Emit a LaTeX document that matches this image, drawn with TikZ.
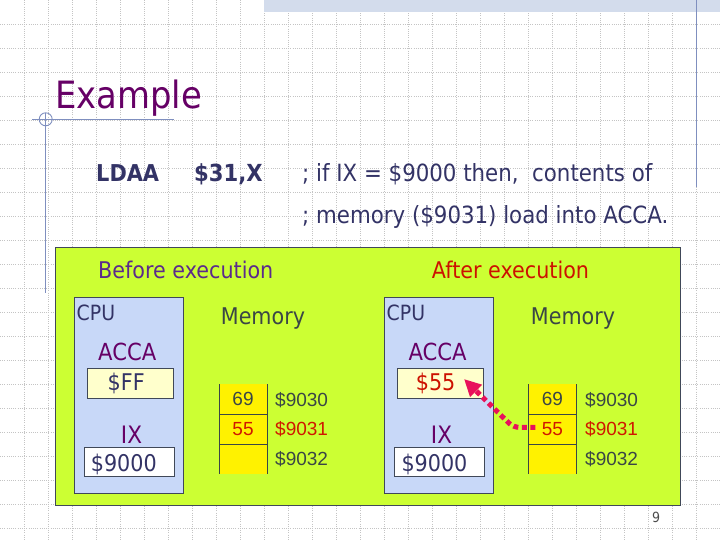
\documentclass[tikz,border=0pt]{standalone}
\usepackage{fontspec}
\setmainfont[FakeStretch=0.9]{DejaVu Sans}
\newfontfamily\memfont{Liberation Sans}
\usetikzlibrary{arrows.meta}
\definecolor{titlepurple}{HTML}{660066}
\definecolor{navy}{HTML}{333366}
\definecolor{beforec}{HTML}{5B2A8C}
\definecolor{afterc}{HTML}{CC1100}
\definecolor{memgray}{HTML}{3A4646}
\definecolor{redtxt}{HTML}{D01800}
\definecolor{panelg}{HTML}{CCFF33}
\definecolor{cpublue}{HTML}{C8D8F8}
\definecolor{accay}{HTML}{FFFFCC}
\definecolor{slate}{HTML}{7F8FBF}
\definecolor{gridc}{HTML}{C4C4C4}
\definecolor{bandc}{HTML}{D3DCEC}
\definecolor{pinkarrow}{HTML}{E8115B}
\definecolor{boxline}{HTML}{404858}
\tikzset{
  txt/.style={inner sep=0pt, anchor=base west},
  box/.style={draw=boxline, line width=1pt, inner sep=0pt, anchor=north west},
  cell/.style={fill=yellow, inner sep=0pt, anchor=north west, minimum width=47.7pt, minimum height=29.8pt, font=\memfont\fontsize{19}{22}\selectfont},
  memline/.style={draw=memgray, line width=0.9pt},
  gridline/.style={draw=gridc, line width=0.6pt, dash pattern=on 1pt off 1.2pt},
  slateline/.style={draw=slate, line width=1.1pt},
  f23/.style={font=\fontsize{23}{27}\selectfont},
  memlab/.style={txt, font=\memfont\fontsize{19}{22}\selectfont},
  loadarrow/.style={draw=pinkarrow, line width=5pt, dash pattern=on 5pt off 3.5pt, rounded corners=6pt, -{Triangle[length=17pt,width=16pt]}}
}
\begin{document}
\begin{tikzpicture}[x=1pt,y=-1pt]
\useasboundingbox (0,0) rectangle (720,540);
\fill[white] (0,0) rectangle (720,540);
% background grid
\foreach \i in {1,...,29} { \draw[gridline] (24*\i,0) -- (24*\i,540); }
\foreach \j in {1,...,22} { \draw[gridline] (0,24*\j) -- (720,24*\j); }
% top band and decorative lines
\fill[bandc] (264,0) rectangle (720,12);
\draw[slateline] (696.7,0) -- (696.7,186.7);
\draw[slateline] (32,119.3) -- (174,119.3);
\draw[slateline] (45.7,113) -- (45.7,293);
\draw[draw=slate, line width=0.9pt] (45.7,119.3) circle[radius=6.5];
% title and instruction
\node[txt, text=titlepurple, font=\fontsize{37.6}{42}\selectfont] (title) at (55,108.3) {Example};
\node[txt, text=navy, font=\bfseries\fontsize{23.2}{27}\selectfont] (op) at (96,182) {LDAA};
\node[txt, text=navy, font=\bfseries\fontsize{23.5}{27}\selectfont] (arg) at (194,182) {\$31,X};
\node[txt, text=navy, font=\fontsize{23.7}{27}\selectfont] (c1) at (302,182) {; if IX = \$9000 then,\ \ contents of};
\node[txt, text=navy, font=\fontsize{23.7}{27}\selectfont] (c2) at (302,223) {; memory (\$9031) load into ACCA.};
% panel
\node[box, fill=panelg, line width=1.3pt, minimum width=625pt, minimum height=258pt] (panel) at (55,247) {};
\node[txt, f23, text=beforec] (before) at (98,278.3) {Before execution};
\node[txt, f23, text=afterc] (after) at (431.7,278.3) {After execution};
% CPU boxes
\node[box, fill=cpublue, minimum width=108.4pt, minimum height=195.4pt] (cpuL) at (74.3,297.3) {};
\node[box, fill=cpublue, minimum width=108.7pt, minimum height=195.4pt] (cpuR) at (384,297.3) {};
\node[txt, text=navy, font=\fontsize{21}{25}\selectfont] (cpuLt) at (76.5,320) {CPU};
\node[txt, text=navy, font=\fontsize{21}{25}\selectfont] (cpuRt) at (386.5,320) {CPU};
\node[txt, text=titlepurple, font=\fontsize{23.5}{27}\selectfont] (accaLt) at (98,360.7) {ACCA};
\node[txt, text=titlepurple, font=\fontsize{23.5}{27}\selectfont] (accaRt) at (408.3,360.7) {ACCA};
\node[box, fill=accay, minimum width=85.4pt, minimum height=30pt] (accaL) at (87.3,368.3) {};
\node[box, fill=accay, minimum width=85.4pt, minimum height=30pt] (accaR) at (397.3,368.3) {};
\node[txt, f23, text=navy] (ffL) at (107.5,390.7) {\$FF};
\node[txt, f23, text=afterc] (v55) at (415.7,390.7) {\$55};
\node[txt, text=titlepurple, font=\fontsize{24}{28}\selectfont] (ixLt) at (120.7,443.3) {IX};
\node[txt, text=titlepurple, font=\fontsize{24}{28}\selectfont] (ixRt) at (430.7,443.3) {IX};
\node[box, fill=white, minimum width=90pt, minimum height=29.3pt] (ixL) at (84.3,446.7) {};
\node[box, fill=white, minimum width=90.3pt, minimum height=29.3pt] (ixR) at (394,446.7) {};
\node[txt, f23, text=navy] (ixLv) at (90.7,471.7) {\$9000};
\node[txt, f23, text=navy] (ixRv) at (401.3,471.7) {\$9000};
% memory headings
\node[txt, f23, text=memgray] (memL) at (220.7,324) {Memory};
\node[txt, f23, text=memgray] (memR) at (530.7,324) {Memory};
% left memory column
\node[cell, text=memgray] (a1) at (219,384) {69};
\node[cell, text=redtxt] (a2) at (219,413.8) {55};
\node[cell] (a3) at (219,443.6) {};
\draw[memline] (a1.north west) -- (a3.south west);
\draw[memline] (a1.north east) -- (a3.south east);
\draw[memline] (a1.south west) -- (a1.south east);
\draw[memline] (a2.south west) -- (a2.south east);
\node[memlab, text=memgray] (la1) at (275,406.7) {\$9030};
\node[memlab, text=redtxt] (la2) at (275,435.7) {\$9031};
\node[memlab, text=memgray] (la3) at (275,465) {\$9032};
% right memory column
\node[cell, text=memgray] (b1) at (528.3,384) {69};
\node[cell, text=redtxt] (b2) at (528.3,413.8) {55};
\node[cell] (b3) at (528.3,443.6) {};
\draw[memline] (b1.north west) -- (b3.south west);
\draw[memline] (b1.north east) -- (b3.south east);
\draw[memline] (b1.south west) -- (b1.south east);
\draw[memline] (b2.south west) -- (b2.south east);
\node[memlab, text=memgray] (lb1) at (585,406.7) {\$9030};
\node[memlab, text=redtxt] (lb2) at (585,435.7) {\$9031};
\node[memlab, text=memgray] (lb3) at (585,465) {\$9032};
% load arrow
\coordinate (tip) at (464,379);
\draw[loadarrow] ([xshift=7pt,yshift=1.5pt]b2.west) -- ++(-22,0) -- (tip);
% page number
\node[txt, text=black!70, font=\fontsize{14}{16}\selectfont] (pg) at (652,522) {9};
\end{tikzpicture}
\end{document}
